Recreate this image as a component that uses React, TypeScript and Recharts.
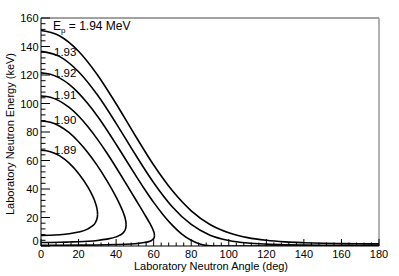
import React from 'react';
import { LineChart, Line, XAxis, YAxis, ReferenceLine, Customized } from 'recharts';

type Pt = { angle: number; energy: number };
const mk = (rows: number[][]): Pt[] => rows.map(([angle, energy]) => ({ angle, energy }));

// Ep = 1.94 MeV
const ep194 = mk([
  [0, 151.2], [10, 147.4], [20, 136.7], [30, 120.2], [40, 99.8], [50, 77.9], [60, 56.8],
  [70, 38.7], [80, 24.7], [90, 15.1], [100, 9.3], [110, 5.9], [120, 4.0], [130, 2.9],
  [140, 2.3], [150, 1.9], [160, 1.7], [170, 1.55], [180, 1.5],
]);
// Ep = 1.93 MeV
const ep193 = mk([
  [0, 136.6], [10, 132.9], [20, 122.3], [30, 106.1], [40, 86.1], [50, 64.7], [60, 44.4],
  [70, 27.4], [80, 15.1], [90, 7.6], [100, 3.9], [110, 2.1], [120, 1.3], [130, 0.9],
  [140, 0.7], [150, 0.55], [160, 0.48], [170, 0.44], [180, 0.43],
]);
// Ep = 1.92 MeV
const ep192 = mk([
  [0, 121.5], [5, 120.5], [10, 117.8], [15, 113.4], [20, 107.3], [25, 99.8], [30, 91.2],
  [35, 81.6], [40, 71.4], [45, 60.9], [50, 50.4], [55, 40.2], [60, 30.6], [65, 22.0],
  [70, 14.5], [75, 8.4], [80, 4.0], [85, 1.2], [90, 0.16], [95, 0.02], [100, 0],
  [120, 0], [140, 0], [160, 0], [180, 0],
]);
// Ep = 1.91 MeV (closed loop: upper and lower branch)
const ep191Upper = mk([
  [0, 105.3], [5, 104.4], [10, 101.7], [15, 97.2], [20, 91.2], [25, 83.7], [30, 75.0],
  [35, 65.4], [40, 55.1], [45, 44.4], [50, 33.5], [55, 22.6], [58, 15.8], [59, 13.3],
  [60, 10.2], [60.3, 8.9], [60.45, 7.3],
]);
const ep191Lower = mk([
  [0, 0.5], [10, 0.5], [20, 0.6], [30, 0.7], [40, 1.0], [45, 1.2], [50, 1.6], [55, 2.4],
  [58, 3.4], [59, 4.0], [60, 5.3], [60.3, 6.0], [60.45, 7.3],
]);
// Ep = 1.90 MeV
const ep190Upper = mk([
  [0, 87.7], [5, 86.8], [10, 84.0], [15, 79.5], [20, 73.2], [25, 65.5], [30, 56.4],
  [35, 46.0], [40, 34.3], [42, 29.0], [44, 22.8], [45, 18.4], [45.2, 16.9], [45.33, 14.8],
]);
const ep190Lower = mk([
  [0, 2.5], [5, 2.5], [10, 2.6], [15, 2.8], [20, 3.0], [25, 3.35], [30, 3.9], [35, 4.8],
  [40, 6.4], [42, 7.6], [44, 9.6], [45, 12.0], [45.2, 13.0], [45.33, 14.8],
]);
// Ep = 1.89 MeV
const ep189Upper = mk([
  [0, 67.2], [5, 66.2], [10, 63.2], [15, 58.1], [20, 50.9], [25, 41.3], [27, 36.4],
  [29, 30.1], [30, 24.7], [30.05, 24.1], [30.13, 22.3],
]);
const ep189Lower = mk([
  [0, 7.4], [5, 7.5], [10, 7.9], [15, 8.6], [20, 9.8], [25, 12.0], [27, 13.7],
  [29, 16.5], [30, 20.2], [30.13, 22.3],
]);

const curves = [ep194, ep193, ep192, ep191Upper, ep191Lower, ep190Upper, ep190Lower, ep189Upper, ep189Lower];

const xMajor = [0, 20, 40, 60, 80, 100, 120, 140, 160, 180];
const yMajor = [0, 20, 40, 60, 80, 100, 120, 140, 160];
const xTicks = Array.from({ length: 46 }, (_, i) => i * 4);
const yTicks = Array.from({ length: 41 }, (_, i) => i * 4);

const curveLabels = ['1.93', '1.92', '1.91', '1.90', '1.89'];
const curveLabelY = [55.5, 77, 99, 124, 153.5];

const FONT = '"Liberation Sans", Arial, Helvetica, sans-serif';

const XTick = (props: any) => {
  const { x, y, payload } = props;
  const v = payload.value;
  const major = xMajor.includes(v);
  return (
    <g>
      <line x1={x} x2={x} y1={y} y2={y - (major ? 7 : 3.5)} stroke="#000" strokeWidth={1} />
      {major && (
        <text x={x} y={y + 12} textAnchor="middle" fontSize={11} fontFamily={FONT} fill="#000">
          {v}
        </text>
      )}
    </g>
  );
};

const YTick = (props: any) => {
  const { x, y, payload } = props;
  const v = payload.value;
  const major = yMajor.includes(v);
  return (
    <g>
      <line x1={x} x2={x + (major ? 9 : 4.5)} y1={y} y2={y} stroke="#000" strokeWidth={1} />
      {major && (
        <text x={x - 2.5} y={(v === 0 ? y - 5 : y) + 4} textAnchor="end" fontSize={11} fontFamily={FONT} fill="#000">
          {v}
        </text>
      )}
    </g>
  );
};

const Texts = () => (
  <g fontFamily={FONT} fill="#000">
    <text x={53} y={29.5} fontSize={12} fill="#000">
      E
      <tspan fontSize={8} dy={3} fill="#000">
        p
      </tspan>
      <tspan dy={-3} fill="#000">
        {' = 1.94 MeV'}
      </tspan>
    </text>
    {curveLabels.map((t, i) => (
      <text key={t} x={54} y={curveLabelY[i]} fontSize={11.5} fill="#000">
        {t}
      </text>
    ))}
    <text x={211} y={270} textAnchor="middle" fontSize={11} fill="#000">
      Laboratory Neutron Angle (deg)
    </text>
    <text transform="rotate(-90)" x={-134} y={14} textAnchor="middle" fontSize={11} fill="#000">
      Laboratory Neutron Energy (keV)
    </text>
  </g>
);

export default function App() {
  return (
    <div style={{ position: 'absolute', left: 0, top: 0, width: 399, height: 276, background: '#fff' }}>
      <LineChart width={399} height={276} margin={{ top: 18, right: 20, bottom: 10, left: 11 }}>
        <XAxis
          type="number"
          dataKey="angle"
          domain={[0, 180]}
          ticks={xTicks}
          interval={0}
          height={20}
          tickSize={0}
          tickMargin={0}
          tickLine={false}
          tick={<XTick />}
          axisLine={{ stroke: '#000', strokeWidth: 1 }}
          allowDataOverflow
        />
        <YAxis
          type="number"
          dataKey="energy"
          domain={[0, 160]}
          ticks={yTicks}
          interval={0}
          width={30}
          tickSize={0}
          tickMargin={0}
          tickLine={false}
          tick={<YTick />}
          axisLine={{ stroke: '#000', strokeWidth: 1 }}
          allowDataOverflow
        />
        <ReferenceLine y={160} stroke="#444" strokeWidth={1} />
        <ReferenceLine x={180} stroke="#999" strokeWidth={1.5} />
        {curves.map((d, i) => (
          <Line
            key={i}
            data={d}
            dataKey="energy"
            type="monotone"
            stroke="#000"
            strokeWidth={1.6}
            dot={false}
            isAnimationActive={false}
          />
        ))}
        <Customized component={<Texts />} />
      </LineChart>
    </div>
  );
}
